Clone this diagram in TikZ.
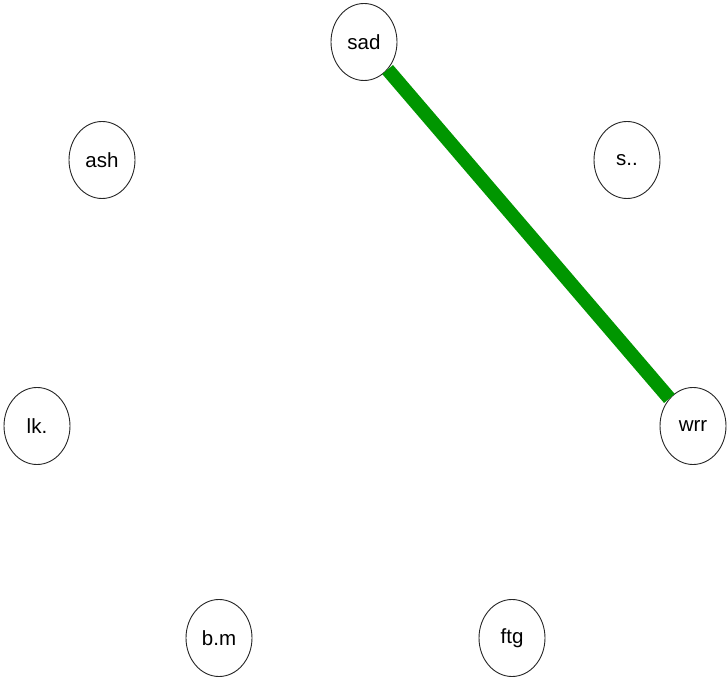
\documentclass[tikz,border=0pt]{standalone}
\usepackage{fontspec}
\setmainfont{Liberation Sans}
\usetikzlibrary{shapes.geometric}
\definecolor{edgegreen}{RGB}{0,150,0}
\begin{document}
\begin{tikzpicture}[x=1pt,y=1pt,
  vert/.style={ellipse,draw=black!85,line width=0.9pt,fill=white,minimum width=66pt,minimum height=77pt,inner sep=0pt,font=\fontsize{20.5}{24}\selectfont},
  link/.style={draw=edgegreen,line width=14pt}]
\useasboundingbox (0,0) rectangle (728,680);
\node[vert] (sad) at (364,638) {sad};
\node[vert] (ash) at (102,520) {ash};
\node[vert] (s) at (627,520) {s..};
\node[vert] (lk) at (37,254) {lk.};
\node[vert] (wrr) at (693,254) {wrr};
\node[vert] (bm) at (219,42) {b.m};
\node[vert] (ftg) at (512,42) {ftg};
\draw[link] (sad) -- (wrr);
\end{tikzpicture}
\end{document}
